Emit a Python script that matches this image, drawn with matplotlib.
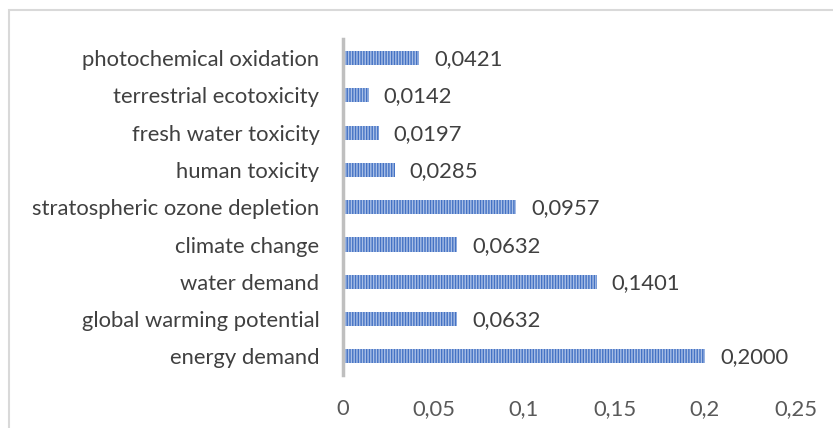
import matplotlib
matplotlib.use("Agg")
import matplotlib.pyplot as plt
from matplotlib.patches import Rectangle

categories = ["energy demand", "global warming potential", "water demand", "climate change",
              "stratospheric ozone depletion", "human toxicity", "fresh water toxicity",
              "terrestrial ecotoxicity", "photochemical oxidation"]
values = [0.2000, 0.0632, 0.1401, 0.0632, 0.0957, 0.0285, 0.0197, 0.0142, 0.0421]
xticks = [0, 0.05, 0.1, 0.15, 0.2, 0.25]
xtick_labels = ["0", "0,05", "0,1", "0,15", "0,2", "0,25"]

plt.rcParams['font.family'] = ['Lato', 'DejaVu Sans']
plt.rcParams['hatch.linewidth'] = 1.0

fig = plt.figure(figsize=(8.33, 4.28), dpi=100)
fig.patches.append(Rectangle((9/833, -0.1), 1.2, (1 - 10/428) + 0.1, transform=fig.transFigure,
                             fill=False, edgecolor='#D9D9D9', linewidth=1.5))
ax = fig.add_axes([343/833, 1 - 375/428, (795.5 - 343)/833, (375 - 39.5)/428])

pos = list(range(len(categories)))
ax.barh(pos, values, height=0.38, color='#4472C4', edgecolor='#A9BFE6', linewidth=0,
        hatch='||||||')
for p, v in zip(pos, values):
    ax.text(v + 0.0083, p - 0.03, f"{v:.4f}".replace('.', ','), va='center', ha='left',
            fontsize=15.8, color='#404040')

ax.set_xlim(0, 0.25)
ax.set_ylim(-0.5, len(categories) - 0.5)
ax.set_yticks(pos)
ax.set_yticklabels(categories, fontsize=15.8, color='#404040')
ax.set_xticks(xticks)
ax.set_xticklabels(xtick_labels, fontsize=15.8, color='#595959')
ax.tick_params(length=0)
ax.tick_params(axis='x', pad=17)
ax.tick_params(axis='y', pad=17)
for s in ['top', 'right', 'bottom']:
    ax.spines[s].set_visible(False)
ax.spines['left'].set_color('#BFBFBF')
ax.spines['left'].set_linewidth(2.5)

fig.savefig("out.png", dpi=100)
